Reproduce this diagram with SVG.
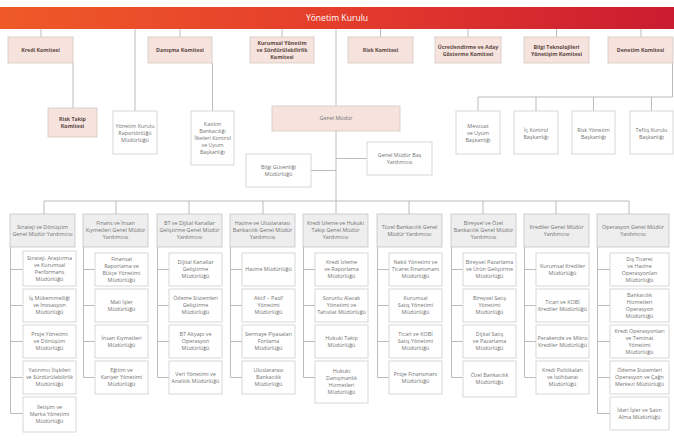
<svg xmlns="http://www.w3.org/2000/svg" width="674" height="440" viewBox="0 0 674 440">
  <defs>
    <linearGradient id="board" x1="0" y1="0" x2="1" y2="0">
      <stop offset="0" stop-color="#ef5a28"/>
      <stop offset="0.5" stop-color="#e43d2c"/>
      <stop offset="1" stop-color="#c91c30"/>
    </linearGradient>
    <style>
      .c { fill: #f6e3dd; stroke: #d5c8c4; stroke-width: 0.8; }
      .h { fill: #eeeeee; stroke: #c4c4c4; stroke-width: 0.8; }
      .s { fill: #ffffff; stroke: #cdcdcd; stroke-width: 0.8; }
      .ln { stroke: #b4b4b4; stroke-width: 0.9; fill: none; }
      text { font-family: "Open Sans", "Liberation Sans", sans-serif; font-size: 5.4px; fill: #737373; text-anchor: middle; }
      .b { font-weight: 700; fill: #5e4a46; font-size: 5.3px; }
      .top { font-size: 8.6px; fill: #ffffff; }
    </style>
  </defs>

  <rect width="674" height="440" fill="#ffffff"/>

  <!-- connectors -->
  <g id="connectors" class="ln">
    <!-- board to committees -->
    <path d="M41 29V37 M180 29V37 M282 29V37 M380.5 29V37 M468 29V37 M556.5 29V37 M641 29V37"/>
    <path d="M73 63V108 M212.5 63V111 M135 29V111"/>
    <path d="M336 29V201"/>
    <path d="M311 170.5H336 M336 158.5H367"/>
    <!-- audit branch -->
    <path d="M672.5 63V97H478V111 M536 97V111 M593.5 97V111 M651.5 97V111"/>
    <!-- executive bus -->
    <path d="M44 201H629 M44 201V214 M116 201V214 M189 201V214 M263 201V214 M336 201V214 M409 201V214 M483 201V214 M556 201V214 M629 201V214"/>
    <!-- column spines -->
    <path d="M10.5 247V413.5 M10.5 269.5H23 M10.5 305.5H23 M10.5 341.5H23 M10.5 377.5H23 M10.5 413.5H23"/>
    <path d="M83.5 247V377.5 M83.5 269.5H95 M83.5 305.5H95 M83.5 341.5H95 M83.5 377.5H95"/>
    <path d="M157.5 247V377.5 M157.5 269.5H169 M157.5 305.5H169 M157.5 341.5H169 M157.5 377.5H169"/>
    <path d="M230.5 247V377.5 M230.5 269.5H242 M230.5 305.5H242 M230.5 341.5H242 M230.5 377.5H242"/>
    <path d="M303.5 247V377.5 M303.5 269.5H315 M303.5 305.5H315 M303.5 341.5H315 M303.5 377.5H315"/>
    <path d="M377.5 247V377.5 M377.5 269.5H389 M377.5 305.5H389 M377.5 341.5H389 M377.5 377.5H389"/>
    <path d="M451.5 247V377.5 M451.5 269.5H463 M451.5 305.5H463 M451.5 341.5H463 M451.5 377.5H463"/>
    <path d="M524.5 247V377.5 M524.5 269.5H536 M524.5 305.5H536 M524.5 341.5H536 M524.5 377.5H536"/>
    <path d="M597.5 247V413.5 M597.5 269.5H610 M597.5 305.5H610 M597.5 341.5H610 M597.5 377.5H610 M597.5 413.5H610"/>
  </g>

  <!-- board -->
  <g id="yonetim-kurulu">
    <rect x="0" y="7" width="674" height="22" fill="url(#board)"/>
    <text class="top" x="337" y="21">Yönetim Kurulu</text>
  </g>

  <!-- committees -->
  <g id="kredi-komitesi"><rect class="c" x="8" y="37" width="65" height="26"/><text class="b" x="40.5" y="51.9">Kredi Komitesi</text></g>
  <g id="danisma-komitesi"><rect class="c" x="148" y="37" width="64" height="26"/><text class="b" x="180" y="51.9">Danışma Komitesi</text></g>
  <g id="kurumsal-yonetim-komitesi"><rect class="c" x="250" y="37" width="64" height="26"/><text class="b" x="282" y="44.9"><tspan x="282">Kurumsal Yönetim</tspan><tspan x="282" dy="7">ve Sürdürülebilirlik</tspan><tspan x="282" dy="7">Komitesi</tspan></text></g>
  <g id="risk-komitesi"><rect class="c" x="348" y="37" width="65" height="26"/><text class="b" x="380.5" y="51.9">Risk Komitesi</text></g>
  <g id="ucretlendirme-komitesi"><rect class="c" x="435" y="37" width="66" height="26"/><text class="b" x="468" y="48.6"><tspan x="468">Ücretlendirme ve Aday</tspan><tspan x="468" dy="7">Gösterme Komitesi</tspan></text></g>
  <g id="bilgi-teknolojileri-komitesi"><rect class="c" x="524" y="37" width="65" height="26"/><text class="b" x="556.5" y="48.6"><tspan x="556.5">Bilgi Teknolojileri</tspan><tspan x="556.5" dy="7">Yönetişim Komitesi</tspan></text></g>
  <g id="denetim-komitesi"><rect class="c" x="608" y="37" width="65" height="26"/><text class="b" x="640.5" y="51.9">Denetim Komitesi</text></g>

  <g id="risk-takip-komitesi"><rect class="c" x="48" y="108" width="49" height="29"/><text class="b" x="72.5" y="121.3"><tspan x="72.5">Risk Takip</tspan><tspan x="72.5" dy="7">Komitesi</tspan></text></g>
  <g id="yk-raportorlugu"><rect class="s" x="113" y="111" width="44" height="43"/><text x="135" y="128.4"><tspan x="135">Yönetim Kurulu</tspan><tspan x="135" dy="7">Raportörlüğü</tspan><tspan x="135" dy="7">Müdürlüğü</tspan></text></g>
  <g id="katilim-bankaciligi"><rect class="s" x="191" y="111" width="43" height="54"/><text x="212.5" y="126.4"><tspan x="212.5">Katılım</tspan><tspan x="212.5" dy="7">Bankacılığı</tspan><tspan x="212.5" dy="7">İlkeleri Kontrol</tspan><tspan x="212.5" dy="7">ve Uyum</tspan><tspan x="212.5" dy="7">Başkanlığı</tspan></text></g>

  <!-- general manager -->
  <g id="genel-mudur"><rect class="c" x="272" y="106" width="128" height="25"/><text x="336" y="120.4">Genel Müdür</text></g>
  <g id="bilgi-guvenligi"><rect class="s" x="246" y="154" width="65" height="33"/><text x="278.5" y="169.3"><tspan x="278.5">Bilgi Güvenliği</tspan><tspan x="278.5" dy="7">Müdürlüğü</tspan></text></g>
  <g id="gm-bas-yardimcisi"><rect class="s" x="367" y="142" width="65" height="33"/><text x="399.5" y="157.3"><tspan x="399.5">Genel Müdür Baş</tspan><tspan x="399.5" dy="7">Yardımcısı</tspan></text></g>

  <!-- audit units -->
  <g id="mevzuat-uyum"><rect class="s" x="456" y="111" width="44" height="43"/><text x="478" y="128.4"><tspan x="478">Mevzuat</tspan><tspan x="478" dy="7">ve Uyum</tspan><tspan x="478" dy="7">Başkanlığı</tspan></text></g>
  <g id="ic-kontrol"><rect class="s" x="514" y="111" width="44" height="43"/><text x="536" y="131.9"><tspan x="536">İç Kontrol</tspan><tspan x="536" dy="7">Başkanlığı</tspan></text></g>
  <g id="risk-yonetim"><rect class="s" x="572" y="111" width="43" height="43"/><text x="593.5" y="131.9"><tspan x="593.5">Risk Yönetim</tspan><tspan x="593.5" dy="7">Başkanlığı</tspan></text></g>
  <g id="teftis-kurulu"><rect class="s" x="630" y="111" width="43" height="43"/><text x="651.5" y="131.9"><tspan x="651.5">Teftiş Kurulu</tspan><tspan x="651.5" dy="7">Başkanlığı</tspan></text></g>

  <!-- column 1 -->
  <g id="strateji-gmy"><rect class="h" x="10" y="214" width="65" height="33"/><text x="42.5" y="229"><tspan x="42.5">Strateji ve Dönüşüm</tspan><tspan x="42.5" dy="7">Genel Müdür Yardımcısı</tspan></text></g>
  <g id="strateji-arastirma"><rect class="s" x="23" y="251" width="53" height="35"/><text x="49.5" y="259.9"><tspan x="49.5">Strateji, Araştırma</tspan><tspan x="49.5" dy="7">ve Kurumsal</tspan><tspan x="49.5" dy="7">Performans</tspan><tspan x="49.5" dy="7">Müdürlüğü</tspan></text></g>
  <g id="is-mukemmelligi"><rect class="s" x="23" y="289" width="53" height="33"/><text x="49.5" y="300.4"><tspan x="49.5">İş Mükemmelliği</tspan><tspan x="49.5" dy="7">ve İnovasyon</tspan><tspan x="49.5" dy="7">Müdürlüğü</tspan></text></g>
  <g id="proje-yonetimi"><rect class="s" x="23" y="325" width="53" height="33"/><text x="49.5" y="336.4"><tspan x="49.5">Proje Yönetimi</tspan><tspan x="49.5" dy="7">ve Dönüşüm</tspan><tspan x="49.5" dy="7">Müdürlüğü</tspan></text></g>
  <g id="yatirimci-iliskileri"><rect class="s" x="23" y="361" width="53" height="33"/><text x="49.5" y="372.4"><tspan x="49.5">Yatırımcı İlişkileri</tspan><tspan x="49.5" dy="7">ve Sürdürülebilirlik</tspan><tspan x="49.5" dy="7">Müdürlüğü</tspan></text></g>
  <g id="iletisim-marka"><rect class="s" x="23" y="397" width="53" height="35"/><text x="49.5" y="409.4"><tspan x="49.5">İletişim ve</tspan><tspan x="49.5" dy="7">Marka Yönetimi</tspan><tspan x="49.5" dy="7">Müdürlüğü</tspan></text></g>

  <!-- column 2 -->
  <g id="finans-gmy"><rect class="h" x="83" y="214" width="65" height="33"/><text x="115.5" y="225.4"><tspan x="115.5">Finans ve İnsan</tspan><tspan x="115.5" dy="7">Kıymetleri Genel Müdür</tspan><tspan x="115.5" dy="7">Yardımcısı</tspan></text></g>
  <g id="finansal-raporlama"><rect class="s" x="95" y="253" width="53" height="33"/><text x="121.5" y="260.9"><tspan x="121.5">Finansal</tspan><tspan x="121.5" dy="7">Raporlama ve</tspan><tspan x="121.5" dy="7">Bütçe Yönetimi</tspan><tspan x="121.5" dy="7">Müdürlüğü</tspan></text></g>
  <g id="mali-isler"><rect class="s" x="95" y="289" width="53" height="33"/><text x="121.5" y="303.9"><tspan x="121.5">Mali İşler</tspan><tspan x="121.5" dy="7">Müdürlüğü</tspan></text></g>
  <g id="insan-kiymetleri"><rect class="s" x="95" y="325" width="53" height="33"/><text x="121.5" y="339.9"><tspan x="121.5">İnsan Kıymetleri</tspan><tspan x="121.5" dy="7">Müdürlüğü</tspan></text></g>
  <g id="egitim-kariyer"><rect class="s" x="95" y="361" width="53" height="33"/><text x="121.5" y="372.4"><tspan x="121.5">Eğitim ve</tspan><tspan x="121.5" dy="7">Kariyer Yönetimi</tspan><tspan x="121.5" dy="7">Müdürlüğü</tspan></text></g>

  <!-- column 3 -->
  <g id="bt-gmy"><rect class="h" x="157" y="214" width="65" height="33"/><text x="189.5" y="225.4"><tspan x="189.5">BT ve Dijital Kanallar</tspan><tspan x="189.5" dy="7">Geliştirme Genel Müdür</tspan><tspan x="189.5" dy="7">Yardımcısı</tspan></text></g>
  <g id="dijital-kanallar"><rect class="s" x="169" y="253" width="53" height="33"/><text x="195.5" y="264.4"><tspan x="195.5">Dijital Kanallar</tspan><tspan x="195.5" dy="7">Geliştirme</tspan><tspan x="195.5" dy="7">Müdürlüğü</tspan></text></g>
  <g id="odeme-sistemleri-gelistirme"><rect class="s" x="169" y="289" width="53" height="33"/><text x="195.5" y="300.4"><tspan x="195.5">Ödeme Sistemleri</tspan><tspan x="195.5" dy="7">Geliştirme</tspan><tspan x="195.5" dy="7">Müdürlüğü</tspan></text></g>
  <g id="bt-altyapi"><rect class="s" x="169" y="325" width="53" height="33"/><text x="195.5" y="336.4"><tspan x="195.5">BT Altyapı ve</tspan><tspan x="195.5" dy="7">Operasyon</tspan><tspan x="195.5" dy="7">Müdürlüğü</tspan></text></g>
  <g id="veri-yonetimi"><rect class="s" x="169" y="361" width="53" height="33"/><text x="195.5" y="375.9"><tspan x="195.5">Veri Yönetimi ve</tspan><tspan x="195.5" dy="7">Analitik Müdürlüğü</tspan></text></g>

  <!-- column 4 -->
  <g id="hazine-gmy"><rect class="h" x="230" y="214" width="65" height="33"/><text x="262.5" y="225.4"><tspan x="262.5">Hazine ve Uluslararası</tspan><tspan x="262.5" dy="7">Bankacılık Genel Müdür</tspan><tspan x="262.5" dy="7">Yardımcısı</tspan></text></g>
  <g id="hazine"><rect class="s" x="242" y="253" width="53" height="33"/><text x="268.5" y="271.4">Hazine Müdürlüğü</text></g>
  <g id="aktif-pasif"><rect class="s" x="242" y="289" width="53" height="33"/><text x="268.5" y="300.4"><tspan x="268.5">Aktif – Pasif</tspan><tspan x="268.5" dy="7">Yönetimi</tspan><tspan x="268.5" dy="7">Müdürlüğü</tspan></text></g>
  <g id="sermaye-piyasalari"><rect class="s" x="242" y="325" width="53" height="33"/><text x="268.5" y="336.4"><tspan x="268.5">Sermaye Piyasaları</tspan><tspan x="268.5" dy="7">Fonlama</tspan><tspan x="268.5" dy="7">Müdürlüğü</tspan></text></g>
  <g id="uluslararasi-bankacilik"><rect class="s" x="242" y="361" width="53" height="33"/><text x="268.5" y="372.4"><tspan x="268.5">Uluslararası</tspan><tspan x="268.5" dy="7">Bankacılık</tspan><tspan x="268.5" dy="7">Müdürlüğü</tspan></text></g>

  <!-- column 5 -->
  <g id="kredi-izleme-gmy"><rect class="h" x="303" y="214" width="65" height="33"/><text x="335.5" y="225.4"><tspan x="335.5">Kredi İzleme ve Hukuki</tspan><tspan x="335.5" dy="7">Takip Genel Müdür</tspan><tspan x="335.5" dy="7">Yardımcısı</tspan></text></g>
  <g id="kredi-izleme"><rect class="s" x="315" y="253" width="53" height="33"/><text x="341.5" y="264.4"><tspan x="341.5">Kredi İzleme</tspan><tspan x="341.5" dy="7">ve Raporlama</tspan><tspan x="341.5" dy="7">Müdürlüğü</tspan></text></g>
  <g id="sorunlu-alacak"><rect class="s" x="315" y="289" width="53" height="33"/><text x="341.5" y="300.4"><tspan x="341.5">Sorunlu Alacak</tspan><tspan x="341.5" dy="7">Yönetimi ve</tspan><tspan x="341.5" dy="7">Tahsilat Müdürlüğü</tspan></text></g>
  <g id="hukuki-takip"><rect class="s" x="315" y="325" width="53" height="33"/><text x="341.5" y="339.9"><tspan x="341.5">Hukuki Takip</tspan><tspan x="341.5" dy="7">Müdürlüğü</tspan></text></g>
  <g id="hukuki-danismanlik"><rect class="s" x="315" y="361" width="53" height="42"/><text x="341.5" y="373.4"><tspan x="341.5">Hukuki</tspan><tspan x="341.5" dy="7">Danışmanlık</tspan><tspan x="341.5" dy="7">Hizmetleri</tspan><tspan x="341.5" dy="7">Müdürlüğü</tspan></text></g>

  <!-- column 6 -->
  <g id="tuzel-gmy"><rect class="h" x="377" y="214" width="65" height="33"/><text x="409.5" y="228.9"><tspan x="409.5">Tüzel Bankacılık Genel</tspan><tspan x="409.5" dy="7">Müdür Yardımcısı</tspan></text></g>
  <g id="nakit-yonetimi"><rect class="s" x="389" y="253" width="53" height="33"/><text x="415.5" y="264.4"><tspan x="415.5">Nakit Yönetimi ve</tspan><tspan x="415.5" dy="7">Ticaret Finansmanı</tspan><tspan x="415.5" dy="7">Müdürlüğü</tspan></text></g>
  <g id="kurumsal-satis"><rect class="s" x="389" y="289" width="53" height="33"/><text x="415.5" y="300.4"><tspan x="415.5">Kurumsal</tspan><tspan x="415.5" dy="7">Satış Yönetimi</tspan><tspan x="415.5" dy="7">Müdürlüğü</tspan></text></g>
  <g id="ticari-kobi-satis"><rect class="s" x="389" y="325" width="53" height="33"/><text x="415.5" y="336.4"><tspan x="415.5">Ticari ve KOBİ</tspan><tspan x="415.5" dy="7">Satış Yönetimi</tspan><tspan x="415.5" dy="7">Müdürlüğü</tspan></text></g>
  <g id="proje-finansmani"><rect class="s" x="389" y="361" width="53" height="33"/><text x="415.5" y="375.9"><tspan x="415.5">Proje Finansmanı</tspan><tspan x="415.5" dy="7">Müdürlüğü</tspan></text></g>

  <!-- column 7 -->
  <g id="bireysel-gmy"><rect class="h" x="451" y="214" width="65" height="33"/><text x="483.5" y="225.4"><tspan x="483.5">Bireysel ve Özel</tspan><tspan x="483.5" dy="7">Bankacılık Genel Müdür</tspan><tspan x="483.5" dy="7">Yardımcısı</tspan></text></g>
  <g id="bireysel-pazarlama"><rect class="s" x="463" y="253" width="53" height="33"/><text x="489.5" y="264.4"><tspan x="489.5">Bireysel Pazarlama</tspan><tspan x="489.5" dy="7">ve Ürün Geliştirme</tspan><tspan x="489.5" dy="7">Müdürlüğü</tspan></text></g>
  <g id="bireysel-satis"><rect class="s" x="463" y="289" width="53" height="33"/><text x="489.5" y="300.4"><tspan x="489.5">Bireysel Satış</tspan><tspan x="489.5" dy="7">Yönetimi</tspan><tspan x="489.5" dy="7">Müdürlüğü</tspan></text></g>
  <g id="dijital-satis"><rect class="s" x="463" y="325" width="53" height="33"/><text x="489.5" y="336.4"><tspan x="489.5">Dijital Satış</tspan><tspan x="489.5" dy="7">ve Pazarlama</tspan><tspan x="489.5" dy="7">Müdürlüğü</tspan></text></g>
  <g id="ozel-bankacilik"><rect class="s" x="463" y="361" width="53" height="36"/><text x="489.5" y="377.4"><tspan x="489.5">Özel Bankacılık</tspan><tspan x="489.5" dy="7">Müdürlüğü</tspan></text></g>

  <!-- column 8 -->
  <g id="krediler-gmy"><rect class="h" x="524" y="214" width="65" height="33"/><text x="556.5" y="228.9"><tspan x="556.5">Krediler Genel Müdür</tspan><tspan x="556.5" dy="7">Yardımcısı</tspan></text></g>
  <g id="kurumsal-krediler"><rect class="s" x="536" y="253" width="53" height="33"/><text x="562.5" y="267.9"><tspan x="562.5">Kurumsal Krediler</tspan><tspan x="562.5" dy="7">Müdürlüğü</tspan></text></g>
  <g id="ticari-kobi-krediler"><rect class="s" x="536" y="289" width="53" height="33"/><text x="562.5" y="303.9"><tspan x="562.5">Ticari ve KOBİ</tspan><tspan x="562.5" dy="7">Krediler Müdürlüğü</tspan></text></g>
  <g id="perakende-mikro"><rect class="s" x="536" y="325" width="53" height="33"/><text x="562.5" y="339.9"><tspan x="562.5">Perakende ve Mikro</tspan><tspan x="562.5" dy="7">Krediler Müdürlüğü</tspan></text></g>
  <g id="kredi-politikalari"><rect class="s" x="536" y="361" width="53" height="33"/><text x="562.5" y="372.4"><tspan x="562.5">Kredi Politikaları</tspan><tspan x="562.5" dy="7">ve İstihbarat</tspan><tspan x="562.5" dy="7">Müdürlüğü</tspan></text></g>

  <!-- column 9 -->
  <g id="operasyon-gmy"><rect class="h" x="597" y="214" width="72" height="33"/><text x="633" y="228.9"><tspan x="633">Operasyon Genel Müdür</tspan><tspan x="633" dy="7">Yardımcısı</tspan></text></g>
  <g id="dis-ticaret-operasyonlari"><rect class="s" x="610" y="253" width="59" height="33"/><text x="639.5" y="260.9"><tspan x="639.5">Dış Ticaret</tspan><tspan x="639.5" dy="7">ve Hazine</tspan><tspan x="639.5" dy="7">Operasyonları</tspan><tspan x="639.5" dy="7">Müdürlüğü</tspan></text></g>
  <g id="bankacilik-hizmetleri"><rect class="s" x="610" y="289" width="59" height="33"/><text x="639.5" y="296.9"><tspan x="639.5">Bankacılık</tspan><tspan x="639.5" dy="7">Hizmetleri</tspan><tspan x="639.5" dy="7">Operasyon</tspan><tspan x="639.5" dy="7">Müdürlüğü</tspan></text></g>
  <g id="kredi-operasyonlari"><rect class="s" x="610" y="325" width="59" height="33"/><text x="639.5" y="332.9"><tspan x="639.5">Kredi Operasyonları</tspan><tspan x="639.5" dy="7">ve Teminat</tspan><tspan x="639.5" dy="7">Yönetimi</tspan><tspan x="639.5" dy="7">Müdürlüğü</tspan></text></g>
  <g id="odeme-sistemleri-operasyon"><rect class="s" x="610" y="361" width="59" height="33"/><text x="639.5" y="372.4"><tspan x="639.5">Ödeme Sistemleri</tspan><tspan x="639.5" dy="7">Operasyon ve Çağrı</tspan><tspan x="639.5" dy="7">Merkezi Müdürlüğü</tspan></text></g>
  <g id="idari-isler"><rect class="s" x="610" y="397" width="59" height="33"/><text x="639.5" y="411.9"><tspan x="639.5">İdari İşler ve Satın</tspan><tspan x="639.5" dy="7">Alma Müdürlüğü</tspan></text></g>
</svg>
